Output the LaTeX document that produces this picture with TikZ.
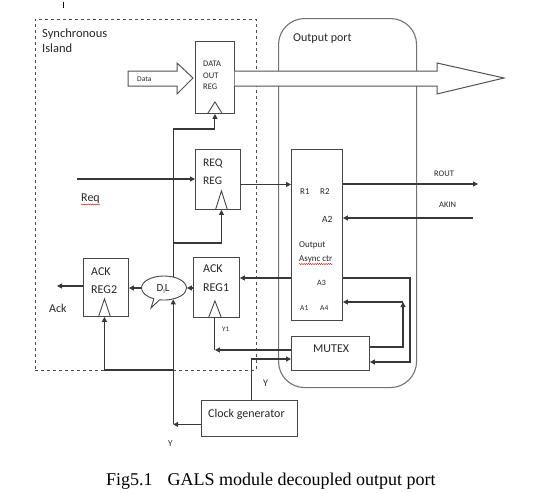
\documentclass[tikz,border=0pt]{standalone}
\usepackage{fontspec}
\setmainfont{Carlito}
\newfontfamily\capfont{Liberation Serif}
\usetikzlibrary{arrows.meta,shapes.callouts,decorations.pathmorphing,calc}
\newcommand\myfs[1]{\fontsize{#1}{#1}\selectfont}
\begin{document}
\begin{tikzpicture}[x=1pt,y=-1pt,
  box/.style={draw=black!72, line width=0.9pt, inner sep=0pt, anchor=north west},
  conn/.style={draw=black!78, line width=1.05pt},
  arr/.style={conn,-{Triangle[length=5pt,width=5pt]}},
  tri/.style={draw=black!72, line width=0.9pt},
  fat/.style={draw=black!68, line width=1pt, fill=white},
  lab/.style={anchor=base west, inner sep=0pt, text=black!85},
  squig/.style={draw=red!80!black, line width=0.35pt, decorate,
    decoration={snake, amplitude=0.6pt, segment length=2.2pt}}]
\useasboundingbox (0,0) rectangle (547,493);

% small tick at top
\coordinate (tk1) at (63.5,2);
\coordinate (tk2) at (63.5,7.5);
\draw[line width=1.3pt] (tk1) -- (tk2);

% containers
\node[box, dashed, draw=black!70, line width=0.6pt, minimum width=221pt, minimum height=351pt] (island) at (35,19) {};
\node[box, draw=black!55, line width=1.1pt, rounded corners=26pt, minimum width=138pt, minimum height=369pt] (port) at (278,18) {};

% blocks
\node[box, minimum width=39pt, minimum height=72pt] (dor) at (195,41) {};
\node[box, minimum width=45pt, minimum height=60pt] (rqr) at (195,149) {};
\node[box, minimum width=46pt, minimum height=60pt] (ak1) at (193,257) {};
\node[box, minimum width=45pt, minimum height=58pt] (ak2) at (83,258) {};
\node[box, minimum width=51pt, minimum height=171pt] (actr) at (291,149) {};
\node[box, minimum width=78pt, minimum height=34pt] (mtx) at (291,336) {};
\node[box, minimum width=96pt, minimum height=36pt] (cg) at (201,400) {};
\node[ellipse callout, draw=black!72, line width=0.9pt, inner sep=0pt,
      minimum width=45pt, minimum height=24pt,
      callout absolute pointer={(151,308)}] (dl) at (164,288) {};
\node[inner sep=0pt, text=black!85] (dltext) at (163,289) {\myfs{11}D\raisebox{-1.5pt}{\myfs{6}I}L};

% clock inputs
\coordinate (dorclk) at (dor.south);
\coordinate (rqclk) at ($(rqr.south)+(3.5,0)$);
\coordinate (a1clk) at ($(ak1.south)+(-1.5,0)$);
\coordinate (a2clk) at ($(ak2.south)+(-1.5,0)$);
\draw[tri] ($(dorclk)+(-7.5,0)$) -- ($(dorclk)+(0,-12)$) -- ($(dorclk)+(7.5,0)$);
\draw[tri] ($(rqclk)+(-6,0)$) -- ($(rqclk)+(0,-19)$) -- ($(rqclk)+(6,0)$);
\draw[tri] ($(a1clk)+(-6.5,0)$) -- ($(a1clk)+(0,-17)$) -- ($(a1clk)+(6.5,0)$);
\draw[tri] ($(a2clk)+(-6,0)$) -- ($(a2clk)+(0,-18)$) -- ($(a2clk)+(6,0)$);

% fat data arrows
\draw[fat] (128,71) -- (177,71) -- (177,63) -- (193,78) -- (177,94) -- (177,86) -- (128,86) -- cycle;
\draw[fat] (234.5,71) -- (437,71) -- (437,63) -- (504,78) -- (437,94) -- (437,86) -- (234.5,86);

% clock distribution from D_IL
\coordinate (dlt) at (dl.51);
\coordinate (c1) at (dlt |- 0,129);
\coordinate (c2) at (dlt |- 0,243);
\draw[arr] (dlt) -- (c1) -| (dorclk);
\draw[arr] (c2) -| (rqclk);

% clock generator
\coordinate (cgl) at ($(cg.west)+(0,6)$);
\coordinate (c3) at (dlt |- cgl);
\coordinate (c4) at (dlt |- 0,370);
\draw[arr] (cgl) -- (c3);
\draw[arr] (c3) -- (dl.-51);
\draw[arr] (c4) -| (a2clk);
\coordinate (cgt) at ($(cg.north)+(2,0)$);
\coordinate (mtxin) at (mtx.west |- 0,359);
\draw[arr] (cgt) |- (mtxin);

% request path
\coordinate (reqin) at (77,179);
\draw[arr] (reqin) -- (rqr.west |- reqin);
\coordinate (rqo) at ($(rqr.east)+(0,5)$);
\draw[arr] (rqo) -- (actr.west |- rqo);
\coordinate (rout) at (478,184);
\draw[arr] (actr.east |- rout) -- (rout);
\coordinate (akin) at (473,218);
\draw[arr] (akin) -- (actr.east |- akin);

% acknowledge path
\coordinate (a1in) at (actr.west |- 0,278);
\draw[arr] (a1in) -- (ak1.east |- a1in);
\draw[arr] (ak1.west |- dl.east) -- (dl.east);
\draw[arr] (dl.west) -- (ak2.east |- dl.west);
\coordinate (ackout) at (57,286);
\draw[arr] (ak2.west |- ackout) -- (ackout);

% A3 / A4 / mutex loops
\coordinate (a3) at (actr.east |- 0,278);
\coordinate (ra) at (410,278);
\coordinate (rb) at (410,362);
\draw[arr] (a3) -- (ra) -- (rb) -- (mtx.east |- rb);
\coordinate (ma) at (mtx.east |- 0,347);
\coordinate (mb) at (403,347);
\coordinate (mc) at (403,302);
\draw[arr] (ma) -- (mb) -- (mc);
\draw[arr] (mc) -- (actr.east |- mc);

% Y1 path
\coordinate (y1src) at (mtx.west |- 0,350);
\coordinate (y1c) at (a1clk |- y1src);
\draw[arr] (y1src) -- (y1c);
\draw[conn] (y1c) -- (a1clk);

% labels
\node[lab, font=\myfs{12.5}] (t1) at (42,37) {Synchronous};
\node[lab, font=\myfs{12.5}] (t2) at (42,52.5) {Island};
\node[lab, font=\myfs{12}] (t3) at (293,41.5) {Output port};
\node[lab, font=\myfs{8.5}] (t4) at (203,66) {DATA};
\node[lab, font=\myfs{8.5}] (t5) at (203,78) {OUT};
\node[lab, font=\myfs{8.5}] (t6) at (203,89) {REG};
\node[lab, font=\myfs{7.5}] (t7) at (137,81) {Data};
\node[lab, font=\myfs{11.5}] (t8) at (203,166) {REQ};
\node[lab, font=\myfs{11.5}] (t9) at (203,184.5) {REG};
\node[lab, font=\myfs{12}] (t10) at (81,201.5) {Req};
\node[lab, font=\myfs{12}] (t11) at (203,272) {ACK};
\node[lab, font=\myfs{12}] (t12) at (203,291) {REG1};
\node[lab, font=\myfs{12}] (t13) at (91,275) {ACK};
\node[lab, font=\myfs{12}] (t14) at (91,293.5) {REG2};
\node[lab, font=\myfs{12}] (t15) at (49,312.5) {Ack};
\node[lab, font=\myfs{7}] (t16) at (222,331) {Y1};
\node[lab, font=\myfs{9}] (t17) at (300,194) {R1};
\node[lab, font=\myfs{9}] (t18) at (320,194) {R2};
\node[lab, font=\myfs{9.5}] (t19) at (322,222) {A2};
\node[lab, font=\myfs{9}] (t20) at (299,247) {Output};
\node[lab, font=\myfs{9}] (t21) at (299,261.5) {Async ctr};
\node[lab, font=\myfs{8}] (t22) at (317,285.5) {A3};
\node[lab, font=\myfs{7.5}] (t23) at (300,310.5) {A1};
\node[lab, font=\myfs{7.5}] (t24) at (320,310.5) {A4};
\node[lab, font=\myfs{8.5}] (t25) at (434,176) {ROUT};
\node[lab, font=\myfs{8.5}] (t26) at (439,207.5) {AKIN};
\node[lab, font=\myfs{12}] (t27) at (313,352.5) {MUTEX};
\node[lab, font=\myfs{12}] (t28) at (208,417) {Clock generator};
\node[lab, font=\myfs{10}] (t29) at (263,386) {Y};
\node[lab, font=\myfs{9}] (t30) at (168,446.5) {Y};
\node[lab, font=\capfont\myfs{18}, text=black] (cap) at (106,485) {Fig5.1\hspace{15pt}GALS module decoupled output port};

% spell-check squiggles
\draw[squig] ($(t10.base west)+(0,3)$) -- ($(t10.base east)+(0,3)$);
\draw[squig] ($(t21.base west)+(0,2.5)$) -- ($(t21.base east)+(0,2.5)$);
\end{tikzpicture}
\end{document}
